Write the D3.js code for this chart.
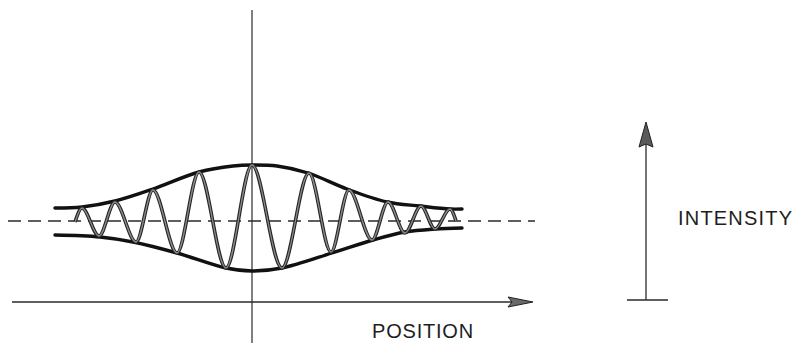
<!DOCTYPE html>
<html>
<head>
<meta charset="utf-8">
<script src="https://cdn.jsdelivr.net/npm/d3@7"></script>
<style>
  html, body { margin: 0; padding: 0; background: #ffffff; }
  svg { display: block; }
  text { font-family: "Liberation Sans", Arial, Helvetica, sans-serif; fill: #1e1e1e; }
</style>
</head>
<body>
<script>
// ---------- data (position units, intensity units) ----------
const wavePosition = [-8.85, -8.5, -7.65, -6.85, -5.8, -4.95, -3.75, -2.65, -1.3, 0,
                      1.5, 2.85, 3.95, 4.85, 6.0, 6.8, 7.65, 8.45, 9.15, 9.9, 10.2];
const waveIntensity = [-0.1, 1.3, -1.5, 1.9, -2.1, 3.1, -3.2, 4.9, -4.7, 5.6,
                       -4.7, 4.8, -3.1, 3.1, -1.9, 1.9, -1.2, 1.5, -0.8, 1.2, 0];

const envTopPosition = [-9.85, -8.5, -6.85, -4.95, -2.65, -0.95, 0, 1.25, 2.8, 4.75, 6.75, 8.4, 9.9, 10.5];
const envTopIntensity = [1.3, 1.4, 2.0, 3.2, 4.9, 5.5, 5.6, 5.5, 4.8, 3.2, 1.9, 1.5, 1.2, 1.2];

const envBottomPosition = [-9.85, -7.6, -5.95, -3.75, -1.3, 0, 1.5, 4.0, 6.05, 7.65, 9.15, 10.5];
const envBottomIntensity = [-1.4, -1.6, -2.1, -3.2, -4.7, -5.0, -4.7, -3.2, -1.9, -1.1, -0.8, -0.7];

const baselineExtent = [-12.2, 14.15];      // dashed zero line
const positionAxisExtent = [-12, 14.05];    // horizontal axis (arrow at right end)
const intensityAxisExtent = [-12.2, 21.1];  // vertical axis through x = 0
const positionAxisLevel = -8.1;

const labels = { position: "POSITION", intensity: "INTENSITY" };

// ---------- layout ----------
const W = 797, H = 343;
const x = d3.scaleLinear().domain([-12, 14]).range([12, 532]);
const y = d3.scaleLinear().domain([-8, 12]).range([301, 101]);

const svg = d3.select("body").append("svg").attr("width", W).attr("height", H);

// vertical axis
svg.append("line")
  .attr("x1", x(0)).attr("x2", x(0))
  .attr("y1", y(intensityAxisExtent[1])).attr("y2", y(intensityAxisExtent[0]))
  .attr("stroke", "#2a2a2a").attr("stroke-width", 1.2);

// horizontal position axis
const axY = y(positionAxisLevel);
const tipX = x(positionAxisExtent[1]);
svg.append("line")
  .attr("x1", x(positionAxisExtent[0])).attr("x2", tipX - 20)
  .attr("y1", axY).attr("y2", axY)
  .attr("stroke", "#2a2a2a").attr("stroke-width", 1.3);
svg.append("path")
  .attr("d", `M${tipX},${axY} L${tipX - 25},${axY - 5} L${tipX - 21},${axY} L${tipX - 25},${axY + 5} Z`)
  .attr("fill", "#6a6a6a").attr("stroke", "#222").attr("stroke-width", 1);

// dashed baseline
svg.append("line")
  .attr("x1", x(baselineExtent[0])).attr("x2", x(baselineExtent[1]))
  .attr("y1", y(0)).attr("y2", y(0))
  .attr("stroke", "#2a2a2a").attr("stroke-width", 1.3)
  .attr("stroke-dasharray", "13,7");

// envelope
const envLine = d3.line().x(d => x(d[0])).y(d => y(d[1])).curve(d3.curveCatmullRom.alpha(0.5));
svg.append("path")
  .attr("d", envLine(d3.zip(envTopPosition, envTopIntensity)))
  .attr("fill", "none").attr("stroke", "#111").attr("stroke-width", 3.4).attr("stroke-linecap", "round");
svg.append("path")
  .attr("d", envLine(d3.zip(envBottomPosition, envBottomIntensity)))
  .attr("fill", "none").attr("stroke", "#111").attr("stroke-width", 3.4).attr("stroke-linecap", "round");

// wave
const waveLine = d3.line().x(d => x(d[0])).y(d => y(d[1])).curve(d3.curveMonotoneX);
const waveD = waveLine(d3.zip(wavePosition, waveIntensity));
svg.append("path").attr("d", waveD)
  .attr("fill", "none").attr("stroke", "#262626").attr("stroke-width", 3.6).attr("stroke-linejoin", "round");
svg.append("path").attr("d", waveD)
  .attr("fill", "none").attr("stroke", "#8c8c8c").attr("stroke-width", 1.3).attr("stroke-linejoin", "round");

// position label
svg.append("text")
  .attr("x", 372).attr("y", 338)
  .attr("font-size", 20).attr("letter-spacing", 0.8)
  .text(labels.position);

// intensity key arrow
const kx = 646, kTop = 122, kBottom = 300;
svg.append("line").attr("x1", kx).attr("x2", kx).attr("y1", kTop + 20).attr("y2", kBottom)
  .attr("stroke", "#2a2a2a").attr("stroke-width", 1.3);
svg.append("line").attr("x1", 627).attr("x2", 668).attr("y1", kBottom).attr("y2", kBottom)
  .attr("stroke", "#2a2a2a").attr("stroke-width", 1.3);
svg.append("path")
  .attr("d", `M${kx},${kTop} L${kx - 7},${kTop + 25} L${kx},${kTop + 22} L${kx + 7},${kTop + 25} Z`)
  .attr("fill", "#5a5a5a").attr("stroke", "#222").attr("stroke-width", 1);

svg.append("text")
  .attr("x", 678).attr("y", 225)
  .attr("font-size", 20).attr("letter-spacing", 1.2)
  .text(labels.intensity);
</script>
</body>
</html>
